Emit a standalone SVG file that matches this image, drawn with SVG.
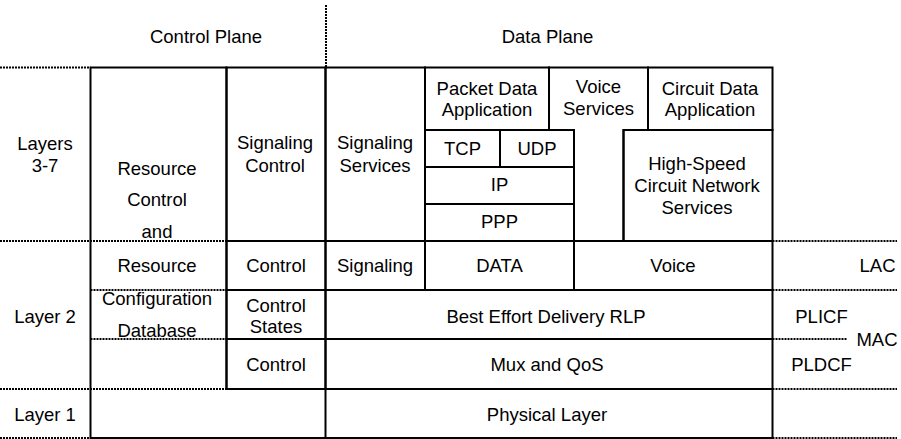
<svg xmlns="http://www.w3.org/2000/svg" width="901" height="439" viewBox="0 0 901 439">
<style>
  .box { fill: none; stroke: #000; stroke-width: 2; }
  .dot { fill: none; stroke: #000; stroke-width: 2; stroke-dasharray: 2 1; }
  text { font-family: "Liberation Sans", Arial, sans-serif; font-size: 18.5px; fill: #000; text-anchor: middle; }
</style>
<rect width="901" height="439" fill="#fff"/>

<g id="guides">
  <path class="dot" d="M326,5 V67.5"/>
  <path class="dot" d="M0,67.5 H90.5"/>
  <path class="dot" d="M0,241 H226.5"/>
  <path class="dot" d="M90.5,290 H226.5"/>
  <path class="dot" d="M90.5,339 H226.5"/>
  <path class="dot" d="M0,389 H226.5"/>
  <path class="dot" d="M0,438 H90.5"/>
  <path class="dot" d="M772.5,241 H897"/>
  <path class="dot" d="M772.5,290 H897"/>
  <path class="dot" d="M772.5,339 H847"/>
  <path class="dot" d="M772.5,389 H897"/>
  <path class="dot" d="M772.5,438 H897"/>
</g>

<g id="headers">
  <text x="206" y="43">Control Plane</text>
  <text x="547.5" y="43">Data Plane</text>
</g>

<g id="layer-labels">
  <text x="45" y="150">Layers</text>
  <text x="45" y="172">3-7</text>
  <text x="45" y="323">Layer 2</text>
  <text x="45" y="421">Layer 1</text>
</g>

<g id="resource-control">
  <path class="box" d="M90.5,389 V67.5 H226.5 V389"/>
  <text x="157" y="175">Resource</text>
  <text x="157" y="206">Control</text>
  <text x="157" y="238">and</text>
  <text x="157" y="272">Resource</text>
  <text x="157" y="305">Configuration</text>
  <text x="157" y="337">Database</text>
</g>

<g id="layer1-control">
  <path class="box" d="M90.5,389 V438 H325.5"/>
</g>

<g id="signaling-control">
  <rect class="box" x="226.5" y="67.5" width="99" height="173.5"/>
  <text x="275" y="149">Signaling</text>
  <text x="275" y="172">Control</text>
</g>

<g id="signaling-services">
  <rect class="box" x="325.5" y="67.5" width="99.5" height="173.5"/>
  <text x="375" y="149">Signaling</text>
  <text x="375" y="172">Services</text>
</g>

<g id="packet-data-application">
  <rect class="box" x="425" y="67.5" width="124" height="62.5"/>
  <text x="487" y="94.5">Packet Data</text>
  <text x="487" y="116">Application</text>
</g>

<g id="voice-services">
  <path class="box" d="M549,67.5 H648 V130 H623.5 V241 H574 V130 H549 Z"/>
  <text x="598.5" y="93">Voice</text>
  <text x="598.5" y="115">Services</text>
</g>

<g id="circuit-data-application">
  <rect class="box" x="648" y="67.5" width="124.5" height="62.5"/>
  <text x="710" y="94.5">Circuit Data</text>
  <text x="710" y="116">Application</text>
</g>

<g id="tcp">
  <rect class="box" x="425" y="130" width="75" height="37"/>
  <text x="462.5" y="155">TCP</text>
</g>

<g id="udp">
  <rect class="box" x="500" y="130" width="74" height="37"/>
  <text x="537" y="155">UDP</text>
</g>

<g id="ip">
  <rect class="box" x="425" y="167" width="149" height="37"/>
  <text x="499.5" y="191">IP</text>
</g>

<g id="ppp">
  <rect class="box" x="425" y="204" width="149" height="37"/>
  <text x="499.5" y="228">PPP</text>
</g>

<g id="high-speed-circuit">
  <rect class="box" x="623.5" y="130" width="149" height="111"/>
  <text x="697" y="170">High-Speed</text>
  <text x="697" y="192">Circuit Network</text>
  <text x="697" y="214">Services</text>
</g>

<g id="l2-control">
  <rect class="box" x="226.5" y="241" width="99" height="49"/>
  <text x="276" y="272">Control</text>
</g>

<g id="l2-signaling">
  <rect class="box" x="325.5" y="241" width="99.5" height="49"/>
  <text x="375" y="272">Signaling</text>
</g>

<g id="l2-data">
  <rect class="box" x="425" y="241" width="149" height="49"/>
  <text x="499.5" y="272">DATA</text>
</g>

<g id="l2-voice">
  <rect class="box" x="574" y="241" width="198.5" height="49"/>
  <text x="673" y="272">Voice</text>
</g>

<g id="control-states">
  <rect class="box" x="226.5" y="290" width="99" height="49"/>
  <text x="276" y="312">Control</text>
  <text x="276" y="333">States</text>
</g>

<g id="best-effort-rlp">
  <rect class="box" x="325.5" y="290" width="447" height="49"/>
  <text x="546" y="323">Best Effort Delivery RLP</text>
</g>

<g id="mux-control">
  <rect class="box" x="226.5" y="339" width="99" height="50"/>
  <text x="276" y="371">Control</text>
</g>

<g id="mux-qos">
  <rect class="box" x="325.5" y="339" width="447" height="50"/>
  <text x="547" y="371">Mux and QoS</text>
</g>

<g id="physical-layer">
  <rect class="box" x="325.5" y="389" width="447" height="49"/>
  <text x="547" y="421">Physical Layer</text>
</g>

<g id="sublayer-labels">
  <text x="877.5" y="272">LAC</text>
  <text x="821.5" y="323">PLICF</text>
  <text x="877" y="346">MAC</text>
  <text x="821.5" y="371">PLDCF</text>
</g>
</svg>
